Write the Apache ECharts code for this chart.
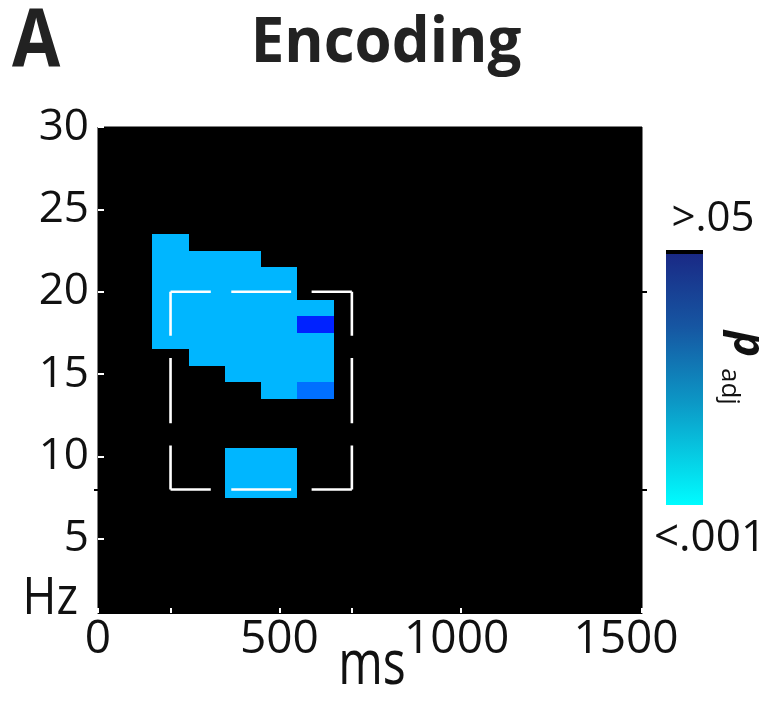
<!DOCTYPE html>
<html>
<head>
<meta charset="utf-8">
<script src="https://cdn.jsdelivr.net/npm/echarts@6/dist/echarts.min.js"></script>
<style>
  html, body { margin: 0; padding: 0; background: #fff; }
  #chart { width: 775px; height: 702px; }
</style>
</head>
<body>
<div id="chart"></div>
<script>
// ---- data ----
const msTickValues = [0, 200, 500, 700, 1000, 1500];
const msLabelValues = [0, 500, 1000, 1500];
const hzLabelValues = [5, 10, 15, 20, 25, 30];
const hzTickValues = [5, 10, 15, 20, 25, 30];
const roiTickValuesRight = [8, 20];
const roiTickValuesLeft = [8];

// significant cells per time bin (bin centre, ms) -> frequency bins (Hz)
const hz200 = [17, 18, 19, 20, 21, 22, 23];
const hz300 = [16, 17, 18, 19, 20, 21, 22];
const hz400 = [8, 9, 10, 15, 16, 17, 18, 19, 20, 21, 22];
const hz500 = [8, 9, 10, 14, 15, 16, 17, 18, 19, 20, 21];
const hz600 = [14, 15, 16, 17, 18, 19];
// p class per cell (0 = <.001, 1 = intermediate, 2 = higher)
const cls200 = [0, 0, 0, 0, 0, 0, 0];
const cls300 = [0, 0, 0, 0, 0, 0, 0];
const cls400 = [0, 0, 0, 0, 0, 0, 0, 0, 0, 0, 0];
const cls500 = [0, 0, 0, 0, 0, 0, 0, 0, 0, 0, 0];
const cls600 = [1, 0, 0, 0, 2, 0];
const binWidthMs = 100;
const binHeightHz = 1;

// region of interest (dashed box)
const roiMs = [200, 700];
const roiHz = [8, 20];

const colorbarLabels = ['>.05', '<.001'];

// ---- build ----
const columns = [[200, hz200, cls200], [300, hz300, cls300], [400, hz400, cls400], [500, hz500, cls500], [600, hz600, cls600]];
const cells = [];
columns.forEach(([t, hzs, cls]) => hzs.forEach((h, i) => cells.push([t, h, cls[i]])));

const classColors = ['#00B6FF', '#0070FF', '#0022FF'];
const FONT = '"Open Sans", "Noto Sans", sans-serif';

const chart = echarts.init(document.getElementById('chart'), null, { renderer: 'canvas' });

const hiddenAxisBase = {
  type: 'value', min: 0.5, max: 30,
  splitLine: { show: false },
  axisLine: { show: false },
  axisLabel: { show: false }
};

const option = {
  animation: false,
  backgroundColor: '#fff',
  grid: {
    left: 98, top: 127, width: 544, height: 486,
    outerBoundsMode: 'none', containLabel: false,
    show: true, backgroundColor: '#000', borderColor: '#000', borderWidth: 1
  },
  xAxis: {
    type: 'value', min: 0, max: 1500,
    splitLine: { show: false },
    axisLine: { show: true, lineStyle: { color: '#000', width: 1 } },
    axisTick: { show: true, inside: true, length: 5, lineStyle: { color: '#fff', width: 2 }, customValues: msTickValues },
    axisLabel: {
      customValues: msLabelValues, fontFamily: FONT, fontSize: 46, color: '#111', margin: 4,
      formatter: v => v === 1500 ? '{r|1500}' : (v === 1000 ? '{m|1000}' : String(v)),
      rich: {
        r: { fontFamily: FONT, fontSize: 46, color: '#111', padding: [0, 32, 0, 0] },
        m: { fontFamily: FONT, fontSize: 46, color: '#111', padding: [0, 8, 0, 0] }
      }
    }
  },
  yAxis: [
    {
      type: 'value', min: 0.5, max: 30,
      splitLine: { show: false },
      axisLine: { show: true, lineStyle: { color: '#000', width: 1 } },
      axisTick: { show: true, inside: true, length: 6, lineStyle: { color: '#fff', width: 2 }, customValues: hzTickValues },
      axisLabel: { customValues: hzLabelValues, fontFamily: FONT, fontSize: 44, color: '#111', margin: 9 }
    },
    Object.assign({}, hiddenAxisBase, {
      position: 'right',
      axisTick: { show: true, inside: false, length: 5, lineStyle: { color: '#000', width: 2 }, customValues: roiTickValuesRight }
    }),
    Object.assign({}, hiddenAxisBase, {
      position: 'left', offset: 0,
      axisTick: { show: true, inside: false, length: 4, lineStyle: { color: '#000', width: 2 }, customValues: roiTickValuesLeft }
    })
  ],
  series: [
    {
      type: 'custom',
      data: cells,
      renderItem: (params, api) => {
        const t = api.value(0), h = api.value(1), c = api.value(2);
        const p0 = api.coord([t - binWidthMs / 2, h + binHeightHz / 2]);
        const p1 = api.coord([t + binWidthMs / 2, h - binHeightHz / 2]);
        const x0 = Math.round(p0[0]), y0 = Math.round(p0[1]);
        const x1 = Math.round(p1[0]), y1 = Math.round(p1[1]);
        return {
          type: 'rect',
          shape: { x: x0, y: y0, width: x1 - x0, height: y1 - y0 },
          style: { fill: classColors[c] }
        };
      },
      z: 2
    },
    {
      type: 'custom',
      data: [[roiMs[0], roiHz[0], roiMs[1], roiHz[1]]],
      renderItem: (params, api) => {
        const a = api.coord([api.value(0), api.value(3)]); // top-left
        const b = api.coord([api.value(2), api.value(1)]); // bottom-right
        const edges = [
          [[a[0], a[1]], [b[0], a[1]]],
          [[b[0], a[1]], [b[0], b[1]]],
          [[b[0], b[1]], [a[0], b[1]]],
          [[a[0], b[1]], [a[0], a[1]]]
        ];
        const children = edges.map(([s, e]) => {
          const L = Math.hypot(e[0] - s[0], e[1] - s[1]);
          const d = 0.222 * L, g = 0.113 * L, m = 0.33 * L;
          return {
            type: 'line',
            shape: { x1: s[0], y1: s[1], x2: e[0], y2: e[1] },
            style: { stroke: '#fff', lineWidth: 2.6, lineDash: [d, g, m, g, d + 4, 1000], lineCap: 'butt' }
          };
        });
        return { type: 'group', children };
      },
      z: 3
    }
  ],
  graphic: [
    { type: 'text', x: 12, y: 44, scaleY: 1.15, style: { text: 'A', font: 'bold 70px ' + FONT, fill: '#222', textVerticalAlign: 'middle' } },
    { type: 'text', x: 386, y: 44, scaleY: 1.04, style: { text: 'Encoding', font: 'bold 60px ' + FONT, fill: '#222', textAlign: 'center', textVerticalAlign: 'middle' } },
    // colorbar
    {
      type: 'rect', shape: { x: 666, y: 250, width: 37, height: 255 },
      style: {
        fill: new echarts.graphic.LinearGradient(0, 0, 0, 1, [
          { offset: 0, color: '#1a2784' },
          { offset: 0.3, color: '#1656a2' },
          { offset: 0.6, color: '#0c98c6' },
          { offset: 1, color: '#00fcff' }
        ])
      }
    },
    { type: 'rect', shape: { x: 666, y: 250, width: 37, height: 4 }, style: { fill: '#000' } },
    { type: 'text', x: 713, y: 240, style: { text: colorbarLabels[0], font: '42px ' + FONT, fill: '#111', textAlign: 'center', textVerticalAlign: 'bottom' } },
    { type: 'text', x: 710, y: 516, style: { text: colorbarLabels[1], font: '44px ' + FONT, fill: '#111', textAlign: 'center', textVerticalAlign: 'top' } },
    { type: 'text', x: 747, y: 331, rotation: -Math.PI / 2, style: { text: 'p', font: 'italic bold 44px ' + FONT, fill: '#111', textAlign: 'left', textVerticalAlign: 'middle' } },
    { type: 'text', x: 729, y: 368, rotation: -Math.PI / 2, style: { text: 'adj', font: '26px ' + FONT, fill: '#111', textAlign: 'left', textVerticalAlign: 'middle' } },
    { type: 'text', x: 78, y: 600, scaleY: 1.1, style: { text: 'Hz', font: '46px ' + FONT, fill: '#111', textAlign: 'right', textVerticalAlign: 'middle' } },
    { type: 'text', x: 372, y: 666, scaleX: 0.86, scaleY: 1.1, style: { text: 'ms', font: '56px ' + FONT, fill: '#111', textAlign: 'center', textVerticalAlign: 'middle' } }
  ]
};
chart.setOption(option);
</script>
</body>
</html>
